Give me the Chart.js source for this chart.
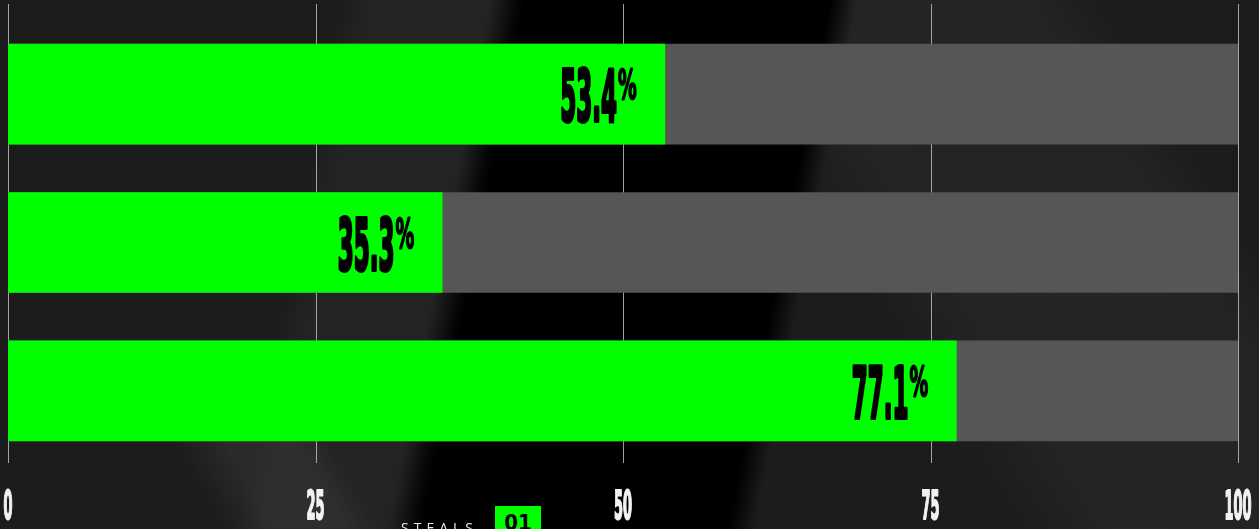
<!DOCTYPE html>
<html>
<head>
<meta charset="utf-8">
<script src="https://cdn.jsdelivr.net/npm/chart.js@4"></script>
<style>
  html, body { margin: 0; padding: 0; overflow: hidden; }
  body {
    width: 1259px; height: 529px; position: relative;
    background-color: #1c1c1c;
    background-image:
      linear-gradient(101deg, rgba(0,0,0,0) 36%, #000 38.5%, #000 61%, rgba(0,0,0,0) 63%),
      linear-gradient(101deg, rgba(0,0,0,0) 25%, rgba(60,60,60,0.22) 27%, rgba(60,60,60,0.22) 37%, rgba(0,0,0,0) 38%),
      linear-gradient(60deg, rgba(0,0,0,0) 30%, rgba(75,75,75,0.3) 45%, rgba(75,75,75,0.3) 65%, rgba(0,0,0,0) 75%),
      linear-gradient(58deg, rgba(0,0,0,0) 64%, rgba(60,60,60,0.25) 70%, rgba(60,60,60,0.22) 86%, rgba(0,0,0,0) 90%);
    background-size: 100% 100%, 100% 100%, 300px 95px, 100% 100%;
    background-position: 0 0, 0 0, 120px 440px, 0 0;
    background-repeat: no-repeat;
  }
  #wrap { position: absolute; left: 0; top: 0; width: 1259px; height: 529px; }
  .stat {
    position: absolute; left: 401px; top: 518px;
    color: #e8e8e8; font: 14px "Open Sans", sans-serif; letter-spacing: 5px;
  }
  .badge {
    position: absolute; left: 495px; top: 506px; width: 46px; height: 30px;
    background: #00ff00; color: #000; text-align: center;
    font: bold 22px "DejaVu Sans Condensed", sans-serif; line-height: 34px;
  }
</style>
</head>
<body>
<div id="wrap"><canvas id="bars" width="1259" height="529"></canvas></div>
<div class="stat">STEALS</div>
<div class="badge">01</div>
<script>
const categories = ['1', '2', '3'];
const shares = [53.4, 35.3, 77.1];
const fullScale = [100, 100, 100];
const tickValues = [0, 25, 50, 75, 100];

const FONT = "'Liberation Sans Narrow', 'DejaVu Sans Condensed', sans-serif";

// draws text squeezed horizontally so digits get a fixed height and width
function drawNarrow(ctx, text, x, top, height, digitWidth, align, weight) {
  ctx.font = 'bold 100px ' + FONT;
  const m = ctx.measureText('0');
  const size = 100 * height / m.actualBoundingBoxAscent;
  ctx.font = 'bold ' + size + 'px ' + FONT;
  const sx = digitWidth / ctx.measureText('0').width;
  const w = ctx.measureText(text).width * sx;
  ctx.save();
  ctx.translate(x, top + height);
  ctx.scale(sx, 1);
  ctx.textAlign = align;
  ctx.textBaseline = 'alphabetic';
  ctx.fillText(text, 0, 0);
  if (weight) {
    // thicken the strokes a little
    ctx.strokeStyle = ctx.fillStyle;
    ctx.lineJoin = 'round';
    ctx.lineWidth = weight;
    ctx.strokeText(text, 0, 0);
  }
  ctx.restore();
  return w;
}

const gridAndLabels = {
  id: 'gridAndLabels',
  beforeDatasetsDraw(chart) {
    const ctx = chart.ctx, x = chart.scales.x;
    ctx.save();
    ctx.strokeStyle = 'rgba(210,210,210,0.75)';
    ctx.lineWidth = 1;
    tickValues.forEach(v => {
      const px = Math.round(x.getPixelForValue(v)) + 0.5;
      ctx.beginPath();
      ctx.moveTo(px, 4);
      ctx.lineTo(px, 463);
      ctx.stroke();
    });
    ctx.fillStyle = '#f2f2f2';
    tickValues.forEach(v => {
      drawNarrow(ctx, String(v), x.getPixelForValue(v), 490, 29, 9, 'center', 2);
    });
    ctx.restore();
  },
  afterDatasetsDraw(chart) {
    const ctx = chart.ctx;
    const meta = chart.getDatasetMeta(0);
    ctx.save();
    ctx.fillStyle = '#000';
    meta.data.forEach((bar, i) => {
      const right = bar.x - 28;
      const top = bar.y - 26;
      const pw = drawNarrow(ctx, '%', right, top + 1, 30, 13, 'right', 2);
      drawNarrow(ctx, shares[i].toFixed(1), right - pw - 1, top, 53, 16, 'right', 4);
    });
    ctx.restore();
  }
};

new Chart(document.getElementById('bars'), {
  type: 'bar',
  data: {
    labels: categories,
    datasets: [
      { data: shares, backgroundColor: '#00ff00', order: 0 },
      { data: fullScale, backgroundColor: '#565656', order: 1 }
    ]
  },
  options: {
    indexAxis: 'y',
    responsive: false,
    animation: false,
    layout: { padding: { left: 8, right: 21, top: 20, bottom: 56 } },
    datasets: { bar: { grouped: false, barThickness: 100, borderWidth: 0 } },
    plugins: { legend: { display: false }, tooltip: { enabled: false } },
    scales: {
      x: {
        type: 'linear', min: 0, max: 100,
        ticks: { stepSize: 25, display: false },
        grid: { display: false },
        border: { display: false }
      },
      y: { display: false }
    }
  },
  plugins: [gridAndLabels]
});
</script>
</body>
</html>
